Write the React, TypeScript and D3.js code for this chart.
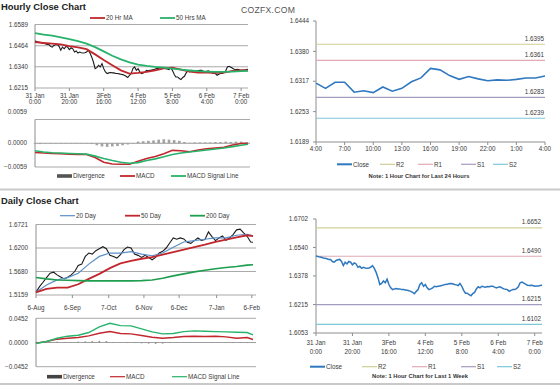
import React from "react";
import * as d3 from "d3";

const FONT = "'Liberation Sans', Arial, Helvetica, sans-serif";
const GRID = "#a9a9a9";
const AXIS = "#8e8e8e";
const TXT = "#3a3a3a";
const RED = "#c1272d";
const GREEN = "#27b36b";
const BLUE = "#2f78c0";
const LEVEL_COLORS = ["#cfcf96", "#e2aab4", "#a49cc0", "#7cc8d6"];

// ---- hourly close, last week (31 Jan 0:00 -> 7 Feb), one value per trading hour
const weekClose = [
  1.6491, 1.6489, 1.6485, 1.6484, 1.648, 1.6478, 1.6476, 1.6472, 1.6472, 1.646,
  1.6456, 1.6466, 1.647, 1.6472, 1.646, 1.6437, 1.6456, 1.6446, 1.646, 1.6456,
  1.6441, 1.6452, 1.6446, 1.6427, 1.6433, 1.6421, 1.6427, 1.6423, 1.6421, 1.6423,
  1.6427, 1.6437, 1.6421, 1.6398, 1.6368, 1.6329, 1.6335, 1.6349, 1.6339, 1.6359,
  1.6329, 1.631, 1.63, 1.6304, 1.6306, 1.6304, 1.6304, 1.63, 1.63, 1.6298,
  1.6296, 1.6294, 1.629, 1.6284, 1.6277, 1.629, 1.63, 1.6329, 1.6339, 1.6319,
  1.6329, 1.631, 1.63, 1.6304, 1.631, 1.6319, 1.6316, 1.6319, 1.6321, 1.6323,
  1.6327, 1.6329, 1.6331, 1.6333, 1.6335, 1.6333, 1.6329, 1.6327, 1.6323, 1.6335,
  1.6319, 1.6296, 1.628, 1.628, 1.6271, 1.6265, 1.6277, 1.6284, 1.6304, 1.6316,
  1.631, 1.6319, 1.6316, 1.6314, 1.6318, 1.6316, 1.6319, 1.6319, 1.6314, 1.631,
  1.6314, 1.6316, 1.631, 1.6304, 1.6302, 1.63, 1.629, 1.6296, 1.63, 1.63,
  1.6306, 1.6316, 1.6339, 1.6343, 1.6337, 1.6331, 1.6325, 1.6323, 1.6325, 1.6323,
  1.6319, 1.6321, 1.6321, 1.6323, 1.6325,
];
const weekHours = weekClose.map((_, i) => i);

// moving averages and MACD read every 5 hours
const maHours = d3.range(0, 121, 5).concat([124]);
const ma20Hr = [
  1.6485, 1.648, 1.6476, 1.6472, 1.6462, 1.6454, 1.6444, 1.6413, 1.638, 1.6349,
  1.6319, 1.63, 1.6304, 1.631, 1.6319, 1.6331, 1.6335, 1.6323, 1.6312, 1.6306,
  1.6306, 1.6304, 1.6306, 1.6316, 1.6319, 1.6319,
];
const ma50Hr = [
  1.6538, 1.653, 1.6523, 1.6513, 1.6503, 1.6491, 1.6476, 1.6456, 1.6431, 1.6405,
  1.6384, 1.6366, 1.6353, 1.6345, 1.6339, 1.6335, 1.6329, 1.6323, 1.6318, 1.6314,
  1.6312, 1.631, 1.631, 1.6312, 1.6314, 1.6316,
];
const macdHr = [
  -0.00228, -0.00244, -0.00253, -0.00261, -0.0027, -0.00278, -0.00278, -0.00354,
  -0.00472, -0.00514, -0.00523, -0.00523, -0.00447, -0.00379, -0.00329, -0.00261,
  -0.00177, -0.00185, -0.00211, -0.00169, -0.00135, -0.00118, -0.00101, -0.00042,
  -0.00008, 0.0,
];
const signalHr = [
  -0.00185, -0.00219, -0.00236, -0.00244, -0.00253, -0.00261, -0.0027, -0.0032,
  -0.00379, -0.0043, -0.00472, -0.00497, -0.00481, -0.0043, -0.00388, -0.00337,
  -0.00278, -0.00244, -0.00219, -0.00194, -0.00169, -0.00143, -0.00118, -0.00084,
  -0.00051, -0.00025,
];
// divergence read every 3 hours
const divHours = d3.range(0, 124, 3);
const divHr = [
  -0.0002, -0.0002, -0.0001, -0.0001, -0.0001, -0.0001, -0.0001, -0.0001, -0.0001,
  -0.0001, -0.0001, -0.0002, -0.0005, -0.0008, -0.0009, -0.0008, -0.0007, -0.0005,
  -0.0003, -0.0001, 0.0004, 0.0005, 0.0006, 0.0007, 0.0009, 0.001, 0.0009, 0.0008,
  0.0006, 0.0003, 0.0001, 0.0002, 0.0002, 0.0002, 0.0002, 0.0003, 0.0003, 0.0004,
  0.0003, 0.0004, 0.0004, 0.0002,
];
const weekTickHours = [0, 20, 40, 60, 80, 100, 120];
const weekTickDay = ["31 Jan", "31 Jan", "3Feb", "4 Feb", "5 Feb", "6 Feb", "7 Feb"];
const weekTickTime = ["0:00", "20:00", "16:00", "12:00", "8:00", "4:00", "0:00"];
const hrPriceTicks = [1.6215, 1.634, 1.6464, 1.6589];
const hrMacdTicks = [-0.0059, 0, 0.0059];

// ---- last 24 hours
const dayClose = [
  1.6313, 1.6302, 1.6315, 1.6315, 1.6294, 1.6297, 1.6293, 1.6305, 1.6296, 1.6302,
  1.6316, 1.6324, 1.6344, 1.6341, 1.6329, 1.6321, 1.6327, 1.6322, 1.6318, 1.632,
  1.6319, 1.6321, 1.6324, 1.6324, 1.6328,
];
const dayHours = dayClose.map((_, i) => i);
const dayTickHours = [0, 3, 6, 9, 12, 15, 18, 21, 24];
const dayTickLabels = ["4:00", "7:00", "10:00", "13:00", "16:00", "19:00", "22:00", "1:00", "4:00"];
const dayPriceTicks = [1.6189, 1.6253, 1.6317, 1.638, 1.6444];

const levelNames = ["R2", "R1", "S1", "S2"];
const levels24h = [1.6395, 1.6361, 1.6283, 1.6239];
const levelsWeek = [1.6652, 1.649, 1.6215, 1.6102];
const weekPriceTicks = [1.6053, 1.6215, 1.6378, 1.654, 1.6702];

// ---- daily (6 Aug 2013 -> 7 Feb 2014), close read every 3 days
const closeDays = d3.range(0, 184, 3).concat([185]);
const dailyClose = [
  1.5218, 1.5345, 1.5441, 1.5545, 1.5642, 1.5664, 1.5605, 1.556, 1.5516, 1.5553,
  1.5605, 1.5679, 1.5813, 1.5843, 1.6014, 1.6089, 1.6066, 1.6141, 1.6185, 1.623,
  1.6185, 1.6037, 1.6014, 1.5977, 1.6051, 1.6163, 1.6222, 1.62, 1.6066, 1.6037,
  1.5992, 1.6037, 1.5992, 1.594, 1.5992, 1.6089, 1.6126, 1.62, 1.6312, 1.6423,
  1.6394, 1.6423, 1.6401, 1.6327, 1.6304, 1.6364, 1.6423, 1.6371, 1.6386, 1.6557,
  1.6453, 1.6364, 1.6423, 1.6468, 1.6371, 1.6423, 1.6498, 1.6602, 1.6617, 1.6535,
  1.6461, 1.6334, 1.6327,
];
const maDays = d3.range(0, 181, 9).concat([185]);
const ma20D = [
  1.5218, 1.5382, 1.5493, 1.5545, 1.5642, 1.5843, 1.6014, 1.6089, 1.6089, 1.6118,
  1.6066, 1.6029, 1.6089, 1.6215, 1.6334, 1.6364, 1.6394, 1.6423, 1.6423, 1.6483,
  1.6505, 1.6468,
];
const ma50D = [
  1.5218, 1.5293, 1.5322, 1.5322, 1.5397, 1.5516, 1.5627, 1.5754, 1.5858, 1.5917,
  1.5962, 1.5999, 1.6051, 1.6111, 1.6163, 1.6222, 1.6274, 1.6334, 1.6386, 1.6438,
  1.6483, 1.6461,
];
const ma200D = [
  1.5545, 1.5516, 1.5493, 1.5486, 1.5478, 1.5471, 1.5471, 1.5471, 1.5471, 1.5471,
  1.5478, 1.5493, 1.5531, 1.5583, 1.5627, 1.5672, 1.5709, 1.5739, 1.5769, 1.5791,
  1.5821, 1.5828,
];
const macdD = [
  -0.0012, 0.0019, 0.0062, 0.008, 0.0093, 0.0124, 0.0173, 0.0204, 0.0167, 0.0161,
  0.013, 0.0099, 0.008, 0.0093, 0.0111, 0.0118, 0.0111, 0.0118, 0.0105, 0.008,
  0.0093, 0.0056,
];
const signalD = [
  -0.0019, 0.0019, 0.008, 0.0118, 0.0136, 0.0186, 0.0291, 0.0359, 0.0316, 0.031,
  0.0254, 0.0198, 0.0161, 0.0167, 0.0204, 0.0217, 0.021, 0.0204, 0.0198, 0.0192,
  0.0186, 0.0142,
];
const divDays = d3.range(0, 181, 6);
const divD = [
  -0.001, 0.0005, 0.001, 0.0015, 0.001, 0.0005, 0.0015, 0.002, 0.0025, 0.003,
  0.0025, 0.001, -0.0005, -0.001, -0.001, -0.0015, -0.002, -0.0025, -0.002, -0.001,
  0.0005, 0.0005, -0.0005, -0.0005, 0.0005, -0.0005, -0.0005, 0.0005, -0.001, 0.0005,
  -0.001,
];
const dailyTickDates = [
  new Date(2013, 7, 6), new Date(2013, 8, 6), new Date(2013, 9, 7), new Date(2013, 10, 6),
  new Date(2013, 11, 6), new Date(2014, 0, 7), new Date(2014, 1, 6),
];
const dailyTickLabels = ["6-Aug", "6-Sep", "7-Oct", "6-Nov", "6-Dec", "7-Jan", "6-Feb"];
const dailyPriceTicks = [1.5159, 1.568, 1.62, 1.6721];
const dailyMacdTicks = [-0.0452, 0, 0.0452];

const dayDate = (d: number) => new Date(2013, 7, 6 + d);
const fmt = d3.format(".4f");

function path(xs: number[], ys: number[], x: (v: any) => number, y: (v: number) => number) {
  return d3.line()(xs.map((v, i) => [x(v), y(ys[i])] as [number, number])) || "";
}

function Txt(props: any) {
  return <text fontFamily={FONT} fontSize={6.3} fill={TXT} {...props} />;
}

function Legend({ x, y, color, w = 1.8, label, box = false }: any) {
  return (
    <g>
      {box ? (
        <rect x={x} y={y - 1.8} width={15} height={3.6} fill={color} />
      ) : (
        <line x1={x} x2={x + 15} y1={y} y2={y} stroke={color} strokeWidth={w} />
      )}
      <Txt x={x + 16} y={y + 2.2}>{label}</Txt>
    </g>
  );
}

export default function App() {
  const xHr = d3.scaleLinear().domain([0, 124]).range([35, 248]);
  const yHr = d3.scaleLinear().domain([1.6215, 1.6589]).range([88, 24.5]);
  const yHrMacd = d3.scaleLinear().domain([-0.0059, 0.0059]).range([167, 119.5]);
  const x24 = d3.scaleLinear().domain([0, 24]).range([316, 545]);
  const y24 = d3.scaleLinear().domain([1.6189, 1.6444]).range([142, 21]);
  const xWk = d3.scaleLinear().domain([0, 124]).range([316, 542]);
  const yWk = d3.scaleLinear().domain([1.6053, 1.6702]).range([333, 219]);
  const xD = d3.scaleTime().domain([dayDate(0), dayDate(185)]).range([36, 253]);
  const yD = d3.scaleLinear().domain([1.5159, 1.6721]).range([295, 224.5]);
  const yDMacd = d3.scaleLinear().domain([-0.0452, 0.0452]).range([366.7, 318.3]);
  const xDay = (d: number) => xD(dayDate(d));

  const hrLeft = 35, hrRight = 248;
  const dLeft = 36, dRight = 256;

  return (
    <svg width={560} height={386} style={{ position: "absolute", left: 0, top: 0, background: "#fff" }}>
      <rect width={560} height={386} fill="#fff" />

      {/* titles */}
      <text x={1} y={9.5} fontFamily={FONT} fontSize={9.4} fontWeight="bold" fill="#222">Hourly Close Chart</text>
      <text x={241} y={12.7} fontFamily={FONT} fontSize={8.6} fill="#555" letterSpacing={0.3}>COZFX.COM</text>
      <text x={1} y={204} fontFamily={FONT} fontSize={9.4} fontWeight="bold" fill="#222">Daily Close Chart</text>

      {/* separators */}
      <line x1={0} x2={560} y1={189.5} y2={189.5} stroke="#c9c9c9" strokeWidth={2} />
      <line x1={0} x2={560} y1={384} y2={384} stroke="#c9c9c9" strokeWidth={2} />

      {/* ===== hourly price ===== */}
      {hrPriceTicks.map((t) => (
        <g key={"hg" + t}>
          <line x1={hrLeft} x2={hrRight} y1={yHr(t)} y2={yHr(t)} stroke={GRID} strokeWidth={1} />
          <Txt x={28} y={yHr(t) + 2.2} textAnchor="end">{fmt(t)}</Txt>
        </g>
      ))}
      <line x1={hrLeft} x2={hrLeft} y1={yHr(1.6589)} y2={yHr(1.6215)} stroke={AXIS} />
      {weekTickHours.map((h, i) => (
        <g key={"hx" + h}>
          <line x1={xHr(h)} x2={xHr(h)} y1={88} y2={91} stroke={AXIS} />
          <Txt x={xHr(h)} y={98} textAnchor="middle">{weekTickDay[i]}</Txt>
          <Txt x={xHr(h)} y={104} textAnchor="middle">{weekTickTime[i]}</Txt>
        </g>
      ))}
      <path d={path(weekHours, weekClose, xHr, yHr)} fill="none" stroke="#1a1a1a" strokeWidth={1.1} />
      <path d={path(maHours, ma20Hr, xHr, yHr)} fill="none" stroke={RED} strokeWidth={1.8} />
      <path d={path(maHours, ma50Hr, xHr, yHr)} fill="none" stroke={GREEN} strokeWidth={1.8} />
      <Legend x={90} y={18} color={RED} label="20 Hr MA" />
      <Legend x={160} y={18} color={GREEN} label="50 Hrs MA" />

      {/* ===== hourly MACD ===== */}
      <line x1={hrLeft} x2={250} y1={yHrMacd(0.0059)} y2={yHrMacd(0.0059)} stroke={GRID} />
      <line x1={hrLeft} x2={250} y1={yHrMacd(-0.0059)} y2={yHrMacd(-0.0059)} stroke={GRID} />
      <line x1={hrLeft} x2={hrLeft} y1={yHrMacd(0.0059)} y2={yHrMacd(-0.0059)} stroke={AXIS} />
      {hrMacdTicks.map((t) => (
        <Txt key={"hm" + t} x={27} y={yHrMacd(t) + 2.2 - (t > 0 ? 7.5 : 0)} textAnchor="end">{fmt(t)}</Txt>
      ))}
      {divHours.map((h, i) => (
        <rect key={"dv" + h} x={xHr(h) - 1.3} width={2.6}
          y={Math.min(yHrMacd(0), yHrMacd(divHr[i]))}
          height={Math.abs(yHrMacd(divHr[i]) - yHrMacd(0))} fill="#a3a3a3" />
      ))}
      <line x1={hrLeft} x2={250} y1={yHrMacd(0)} y2={yHrMacd(0)} stroke="#9a9a9a" />
      <path d={path(maHours, macdHr, xHr, yHrMacd)} fill="none" stroke={RED} strokeWidth={1.6} />
      <path d={path(maHours, signalHr, xHr, yHrMacd)} fill="none" stroke={GREEN} strokeWidth={1.6} />
      <Legend x={57} y={176} color="#555" box label="Divergence" />
      <Legend x={120} y={176} color={RED} label="MACD" />
      <Legend x={171} y={176} color={GREEN} label="MACD Signal Line" />

      {/* ===== last 24 hours ===== */}
      <line x1={316} x2={316} y1={21} y2={142} stroke={AXIS} />
      <line x1={316} x2={545} y1={142} y2={142} stroke={AXIS} />
      {dayPriceTicks.map((t) => (
        <g key={"dp" + t}>
          <line x1={313} x2={316} y1={y24(t)} y2={y24(t)} stroke={AXIS} />
          <Txt x={309} y={y24(t) + 2.2} textAnchor="end">{fmt(t)}</Txt>
        </g>
      ))}
      {dayTickHours.map((h, i) => (
        <g key={"dx" + i}>
          <line x1={x24(h)} x2={x24(h)} y1={142} y2={145} stroke={AXIS} />
          <Txt x={x24(h)} y={150.5} textAnchor="middle">{dayTickLabels[i]}</Txt>
        </g>
      ))}
      {levels24h.map((v, i) => (
        <g key={"l24" + i}>
          <line x1={316} x2={545} y1={y24(v)} y2={y24(v)} stroke={LEVEL_COLORS[i]} strokeWidth={1.2} />
          <Txt x={544} y={y24(v) - 3.5} textAnchor="end">{fmt(v)}</Txt>
        </g>
      ))}
      <path d={path(dayHours, dayClose, x24, y24)} fill="none" stroke={BLUE} strokeWidth={1.6} />
      <Legend x={337} y={164.3} color={BLUE} w={2} label="Close" />
      {levelNames.map((n, i) => (
        <Legend key={"lg24" + n} x={[380, 418, 461, 493][i]} y={164.3} color={LEVEL_COLORS[i]} w={1.2} label={n} />
      ))}
      <text x={419} y={178.2} textAnchor="middle" fontFamily={FONT} fontSize={5.8} fontWeight="bold" fill="#333">
        Note: 1 Hour Chart for Last 24 Hours
      </text>

      {/* ===== daily price ===== */}
      {dailyPriceTicks.map((t) => (
        <g key={"dg" + t}>
          <line x1={dLeft} x2={dRight} y1={yD(t)} y2={yD(t)} stroke={GRID} />
          <Txt x={28} y={yD(t) + 2.2} textAnchor="end">{fmt(t)}</Txt>
        </g>
      ))}
      <line x1={dLeft} x2={dLeft} y1={yD(1.6721)} y2={yD(1.5159)} stroke={AXIS} />
      {dailyTickDates.map((d, i) => (
        <g key={"dt" + i}>
          <line x1={xD(d)} x2={xD(d)} y1={295} y2={298} stroke={AXIS} />
          <Txt x={xD(d)} y={310} textAnchor="middle">{dailyTickLabels[i]}</Txt>
        </g>
      ))}
      <path d={path(closeDays, dailyClose, xDay, yD)} fill="none" stroke="#1a1a1a" strokeWidth={1.1} />
      <path d={path(maDays, ma20D, xDay, yD)} fill="none" stroke="#5a8fc8" strokeWidth={1.2} />
      <path d={path(maDays, ma50D, xDay, yD)} fill="none" stroke={RED} strokeWidth={1.8} />
      <path d={path(maDays, ma200D, xDay, yD)} fill="none" stroke="#1e9e4e" strokeWidth={1.6} />
      <Legend x={60} y={215.7} color="#5a8fc8" w={1.2} label="20 Day" />
      <Legend x={125} y={215.7} color={RED} label="50 Day" />
      <Legend x={190} y={215.7} color="#1e9e4e" label="200 Day" />

      {/* ===== daily MACD ===== */}
      <line x1={dLeft} x2={dRight} y1={yDMacd(0.0452)} y2={yDMacd(0.0452)} stroke={GRID} />
      <line x1={dLeft} x2={dRight} y1={yDMacd(-0.0452)} y2={yDMacd(-0.0452)} stroke={GRID} />
      <line x1={dLeft} x2={dLeft} y1={yDMacd(0.0452)} y2={yDMacd(-0.0452)} stroke={AXIS} />
      {dailyMacdTicks.map((t) => (
        <Txt key={"dm" + t} x={28} y={yDMacd(t) + 2.2} textAnchor="end">{fmt(t)}</Txt>
      ))}
      <line x1={dLeft} x2={dRight} y1={yDMacd(0)} y2={yDMacd(0)} stroke="#a0a0a0" />
      {divDays.map((d, i) => (
        <rect key={"dd" + d} x={xDay(d) - 0.8} width={1.6}
          y={Math.min(yDMacd(0), yDMacd(divD[i]))}
          height={Math.abs(yDMacd(divD[i]) - yDMacd(0))} fill="#8a8a8a" />
      ))}
      <path d={path(maDays, macdD, xDay, yDMacd)} fill="none" stroke={RED} strokeWidth={1.4} />
      <path d={path(maDays, signalD, xDay, yDMacd)} fill="none" stroke={GREEN} strokeWidth={1.4} />
      <Legend x={47} y={376.7} color="#444" box label="Divergence" />
      <Legend x={110} y={376.7} color={RED} w={1.2} label="MACD" />
      <Legend x={172} y={376.7} color={GREEN} w={1.2} label="MACD Signal Line" />

      {/* ===== last week (hourly) ===== */}
      <line x1={316} x2={316} y1={219} y2={333} stroke={AXIS} />
      <line x1={316} x2={542} y1={333} y2={333} stroke={AXIS} />
      {weekPriceTicks.map((t) => (
        <g key={"wp" + t}>
          <line x1={313} x2={316} y1={yWk(t)} y2={yWk(t)} stroke={AXIS} />
          <Txt x={308} y={yWk(t) + 2.2} textAnchor="end">{fmt(t)}</Txt>
        </g>
      ))}
      {weekTickHours.map((h, i) => (
        <g key={"wx" + h}>
          <line x1={xWk(h)} x2={xWk(h)} y1={333} y2={336} stroke={AXIS} />
          <Txt x={xWk(h)} y={345} textAnchor="middle">{weekTickDay[i]}</Txt>
          <Txt x={xWk(h)} y={354.3} textAnchor="middle">{weekTickTime[i]}</Txt>
        </g>
      ))}
      {levelsWeek.map((v, i) => (
        <g key={"lw" + i}>
          <line x1={316} x2={542} y1={yWk(v)} y2={yWk(v)} stroke={LEVEL_COLORS[i]} strokeWidth={1.2} />
          <Txt x={541} y={yWk(v) - 3.5} textAnchor="end">{fmt(v)}</Txt>
        </g>
      ))}
      <path d={path(weekHours, weekClose, xWk, yWk)} fill="none" stroke={BLUE} strokeWidth={1.5} />
      <Legend x={310} y={366.7} color={BLUE} w={2} label="Close" />
      {levelNames.map((n, i) => (
        <Legend key={"lgw" + n} x={[362, 412, 461, 497][i]} y={366.7} color={LEVEL_COLORS[i]} w={1.2} label={n} />
      ))}
      <text x={420} y={378.2} textAnchor="middle" fontFamily={FONT} fontSize={5.8} fontWeight="bold" fill="#333">
        Note: 1 Hour Chart for Last 1 Week
      </text>
    </svg>
  );
}
